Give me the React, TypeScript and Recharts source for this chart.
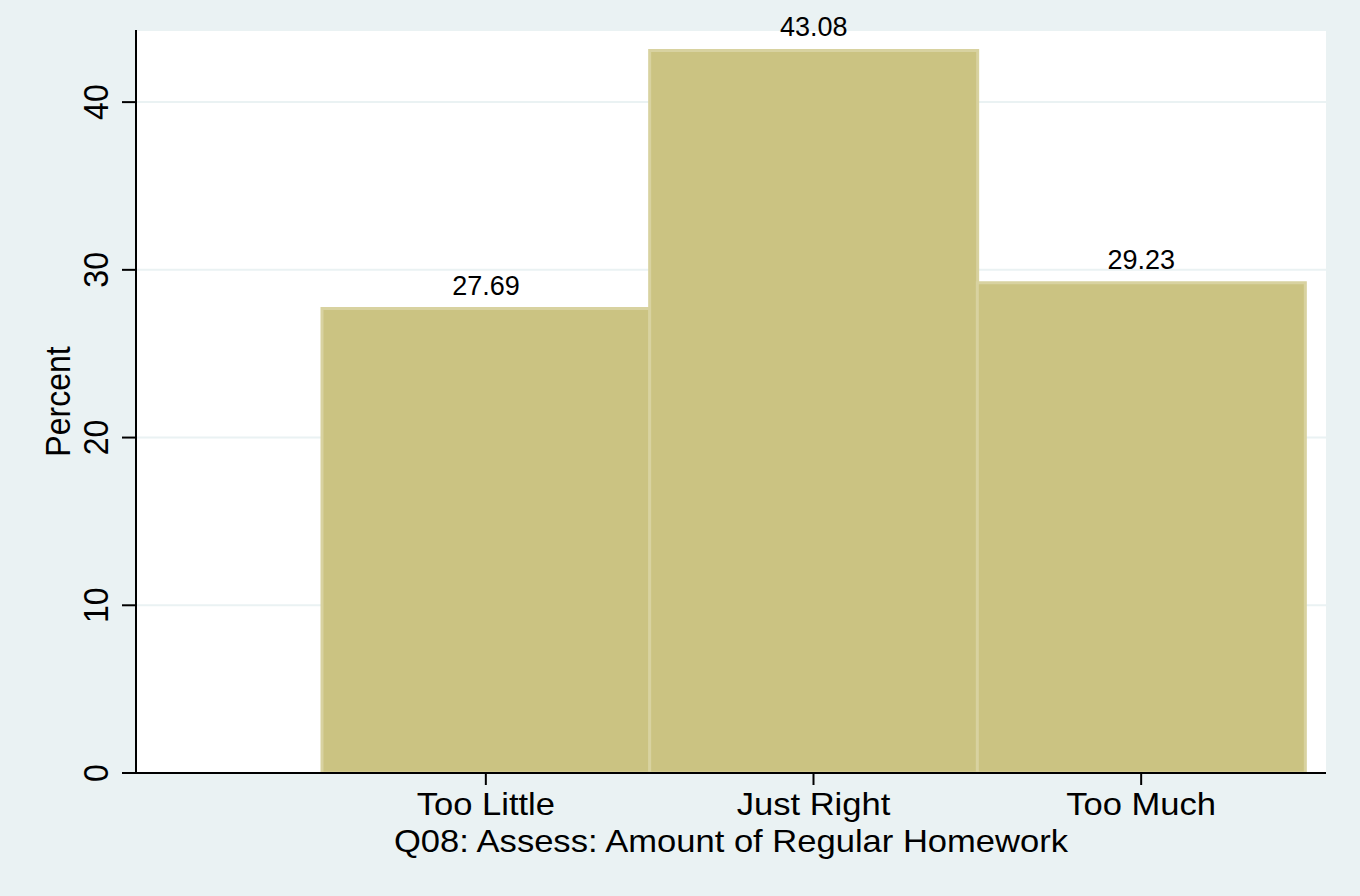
import React from "react";
import { BarChart, Bar, XAxis, YAxis, CartesianGrid, LabelList } from "recharts";

const categories = ["Too Little", "Just Right", "Too Much"];
const percents = [27.69, 43.08, 29.23];
const yTicks = [0, 10, 20, 30, 40];
const yMax = 44.3;
const xTitle = "Q08: Assess: Amount of Regular Homework";
const yTitle = "Percent";

const data = categories.map((c, i) => ({ cat: c, pct: percents[i] }));

const FONT = "'Liberation Sans', Arial, Helvetica, sans-serif";
const SX = 1.08;
const FS = 32;

const YTick = (props: any) => {
  const { x, y, payload } = props;
  const bx = x - 14;
  return (
    <text
      transform={`translate(${bx},${y}) scale(${SX},1) rotate(-90)`}
      textAnchor="middle"
      fontSize={FS}
      fontFamily={FONT}
      fill="#000"
    >
      {payload.value}
    </text>
  );
};

const XTick = (props: any) => {
  const { x, y, payload } = props;
  return (
    <text
      transform={`translate(${x},${y + 30}) scale(${SX},1)`}
      textAnchor="middle"
      fontSize={FS}
      fontFamily={FONT}
      fill="#000"
    >
      {payload.value}
    </text>
  );
};

const YTitle = (props: any) => {
  const vb = props.viewBox || {};
  const cx = (vb.x ?? 0) + 70;
  const cy = (vb.y ?? 0) + (vb.height ?? 0) / 2;
  return (
    <text
      transform={`translate(${cx},${cy}) scale(${SX},1) rotate(-90)`}
      textAnchor="middle"
      fontSize={FS}
      fontFamily={FONT}
      fill="#000"
    >
      {yTitle}
    </text>
  );
};

const XTitle = (props: any) => {
  const vb = props.viewBox || {};
  const cx = (vb.x ?? 0) + (vb.width ?? 0) / 2;
  const cy = (vb.y ?? 0) + 79;
  return (
    <text
      transform={`translate(${cx},${cy}) scale(${SX},1)`}
      textAnchor="middle"
      fontSize={FS}
      fontFamily={FONT}
      fill="#000"
    >
      {xTitle}
    </text>
  );
};

const BarLabel = (props: any) => {
  const { x, y, width, value } = props;
  return (
    <text
      x={x + width / 2}
      y={y - 14}
      textAnchor="middle"
      fontSize={27}
      fontFamily={FONT}
      fill="#000"
    >
      {Number(value).toFixed(2)}
    </text>
  );
};

export default function App() {
  return (
    <div
      style={{
        position: "absolute",
        left: 0,
        top: 0,
        width: 1360,
        height: 896,
        background: "#eaf2f3",
      }}
    >
      <BarChart
        width={1360}
        height={896}
        data={data}
        margin={{ top: 30, right: 34, bottom: 0, left: 0 }}
        barCategoryGap={0}
        barGap={0}
      >
        <CartesianGrid
          vertical={false}
          horizontal={true}
          fill="#ffffff"
          stroke="#eaf2f3"
          strokeWidth={2}
        />
        <XAxis
          dataKey="cat"
          type="category"
          height={123}
          padding={{ left: 186, right: 21 }}
          tickSize={12}
          tickMargin={0}
          axisLine={{ stroke: "#000", strokeWidth: 2 }}
          tickLine={{ stroke: "#000", strokeWidth: 2 }}
          tick={<XTick />}
          interval={0}
          label={<XTitle />}
        />
        <YAxis
          type="number"
          width={136}
          domain={[0, yMax]}
          ticks={yTicks}
          allowDataOverflow
          tickSize={14}
          tickMargin={0}
          axisLine={{ stroke: "#000", strokeWidth: 2 }}
          tickLine={{ stroke: "#000", strokeWidth: 2 }}
          tick={<YTick />}
          label={<YTitle />}
        />
        <Bar
          dataKey="pct"
          fill="#cbc382"
          stroke="#d8d2a0"
          strokeWidth={3}
          isAnimationActive={false}
        >
          <LabelList dataKey="pct" content={<BarLabel />} />
        </Bar>
      </BarChart>
    </div>
  );
}
